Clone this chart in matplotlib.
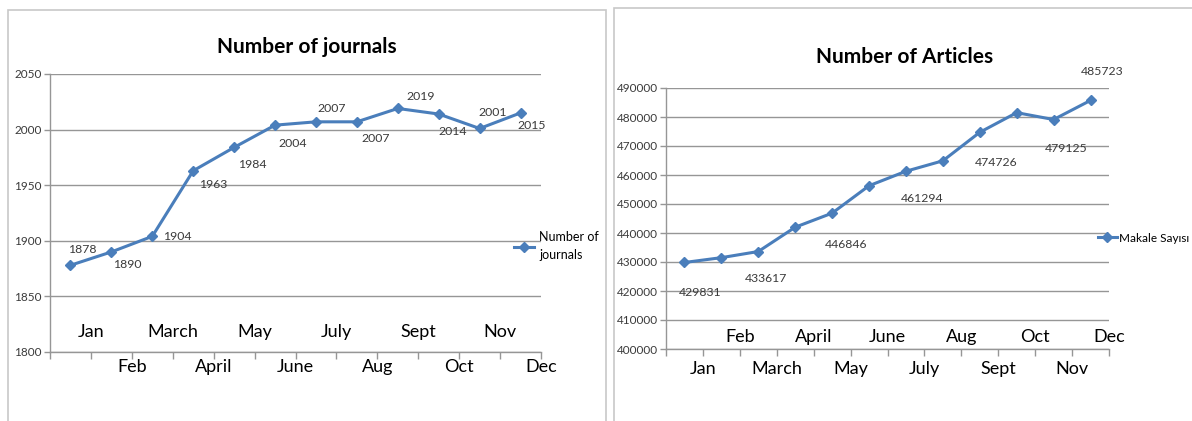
import matplotlib.pyplot as plt
from matplotlib.patches import Rectangle

months = ["Jan", "Feb", "March", "April", "May", "June",
          "July", "Aug", "Sept", "Oct", "Nov", "Dec"]

journals = [1878, 1890, 1904, 1963, 1984, 2004, 2007, 2007, 2019, 2014, 2001, 2015]
articles = [429831, 431500, 433617, 442000, 446846, 456300,
            461294, 464900, 474726, 481500, 479125, 485723]
# which article points carry a value label in the original
article_labelled = [True, False, True, False, True, False,
                    True, False, True, False, True, True]

journal_ticks = [1800, 1850, 1900, 1950, 2000, 2050]
article_ticks = list(range(400000, 490001, 10000))

# label offsets in pixels (dx, dy)
journal_offsets = [(12, 16), (16, -13), (25, 0), (20, -14), (18, -17), (18, -18),
                   (16, 13), (19, -17), (23, 12), (14, -17), (13, 16), (11, -13)]
article_offsets = [(16, -30), None, (8, -27), None, (14, -31), None,
                   (16, -27), None, (16, -30), None, (13, -29), (12, 29)]

W, H = 1192, 421
LINE = "#4a7ebb"
GRID = "#969696"
TXT = "#3a3a3a"
PT = 0.72  # points per pixel at dpi 100

plt.rcParams["font.family"] = ["Lato", "DejaVu Sans"]

fig = plt.figure(figsize=(W / 100, H / 100), dpi=100)

# panel frames
fig.patches.append(Rectangle((8 / W, -0.05), 598 / W, (H + 11) / H,
                             transform=fig.transFigure, fill=False,
                             edgecolor="#c8c8c8", lw=1.2))
fig.patches.append(Rectangle((614 / W, -0.05), 600 / W, (H + 13) / H,
                             transform=fig.transFigure, fill=False,
                             edgecolor="#c8c8c8", lw=1.2))


def make_axes(px_left, px_right, px_top, px_bottom):
    return fig.add_axes([px_left / W, (H - px_bottom) / H,
                         (px_right - px_left) / W, (px_bottom - px_top) / H])


def style_axes(ax, ticks, ylim):
    ax.set_xlim(-0.5, 11.5)
    ax.set_ylim(*ylim)
    ax.set_yticks(ticks)
    ax.set_xticks([i - 0.5 for i in range(13)])
    ax.set_xticklabels([])
    ax.tick_params(axis="x", direction="out", length=5, color=GRID, width=1)
    ax.tick_params(axis="y", direction="out", length=4, color=GRID, width=1,
                   labelsize=8.5, labelcolor=TXT, pad=2)
    ax.grid(axis="y", color=GRID, lw=1)
    ax.set_axisbelow(True)
    for s in ["top", "right"]:
        ax.spines[s].set_visible(False)
    for s in ["left", "bottom"]:
        ax.spines[s].set_color(GRID)
        ax.spines[s].set_linewidth(1)


def month_labels(ax, first_up, up_px, down_px):
    tr = ax.get_xaxis_transform()
    for i, m in enumerate(months):
        up = (i % 2 == 0) == first_up
        dy = up_px if up else -down_px
        ax.annotate(m, xy=(i + 0.5, 0), xycoords=tr, xytext=(0, dy * PT),
                    textcoords="offset points", ha="center", va="center",
                    fontsize=13, color="black")


# ---- left: number of journals
ax1 = make_axes(50, 541, 74, 352)
style_axes(ax1, journal_ticks, (1800, 2050))
x = list(range(len(months)))
ax1.plot(x, journals, color=LINE, lw=2.2, marker="D", ms=5, label="Number of\njournals")
for i, v in enumerate(journals):
    dx, dy = journal_offsets[i]
    ax1.annotate(str(v), xy=(i, v), xytext=(dx * PT, dy * PT), textcoords="offset points",
                 ha="center", va="center", fontsize=8.8, color=TXT)
month_labels(ax1, True, 20, 15)
fig.text(307 / W, 1 - 47 / H, "Number of journals", ha="center", va="center",
         fontsize=15, fontweight="bold")
leg1 = fig.legend(handles=ax1.get_lines(), loc="center left",
                  bbox_to_anchor=(514 / W, 1 - 246 / H), frameon=False, fontsize=9,
                  handlelength=1.6, handletextpad=0.4, borderpad=0, borderaxespad=0)
leg1.get_texts()[0].set_linespacing(1.6)

# ---- right: number of articles
ax2 = make_axes(666, 1109, 88, 349)
style_axes(ax2, article_ticks, (400000, 490000))
ax2.plot(x, articles, color=LINE, lw=2.2, marker="D", ms=5, label="Makale Sayısı")
for i, v in enumerate(articles):
    if not article_labelled[i]:
        continue
    dx, dy = article_offsets[i]
    ax2.annotate(str(v), xy=(i, v), xytext=(dx * PT, dy * PT), textcoords="offset points",
                 ha="center", va="center", fontsize=8.8, color=TXT)
month_labels(ax2, False, 12, 20)
fig.text(905 / W, 1 - 57 / H, "Number of Articles", ha="center", va="center",
         fontsize=15, fontweight="bold")
fig.legend(handles=ax2.get_lines(), loc="center left",
           bbox_to_anchor=(1098 / W, 1 - 238 / H), frameon=False, fontsize=8.5,
           handlelength=1.6, handletextpad=0.2, borderpad=0, borderaxespad=0)

fig.savefig("out.png", dpi=100)
